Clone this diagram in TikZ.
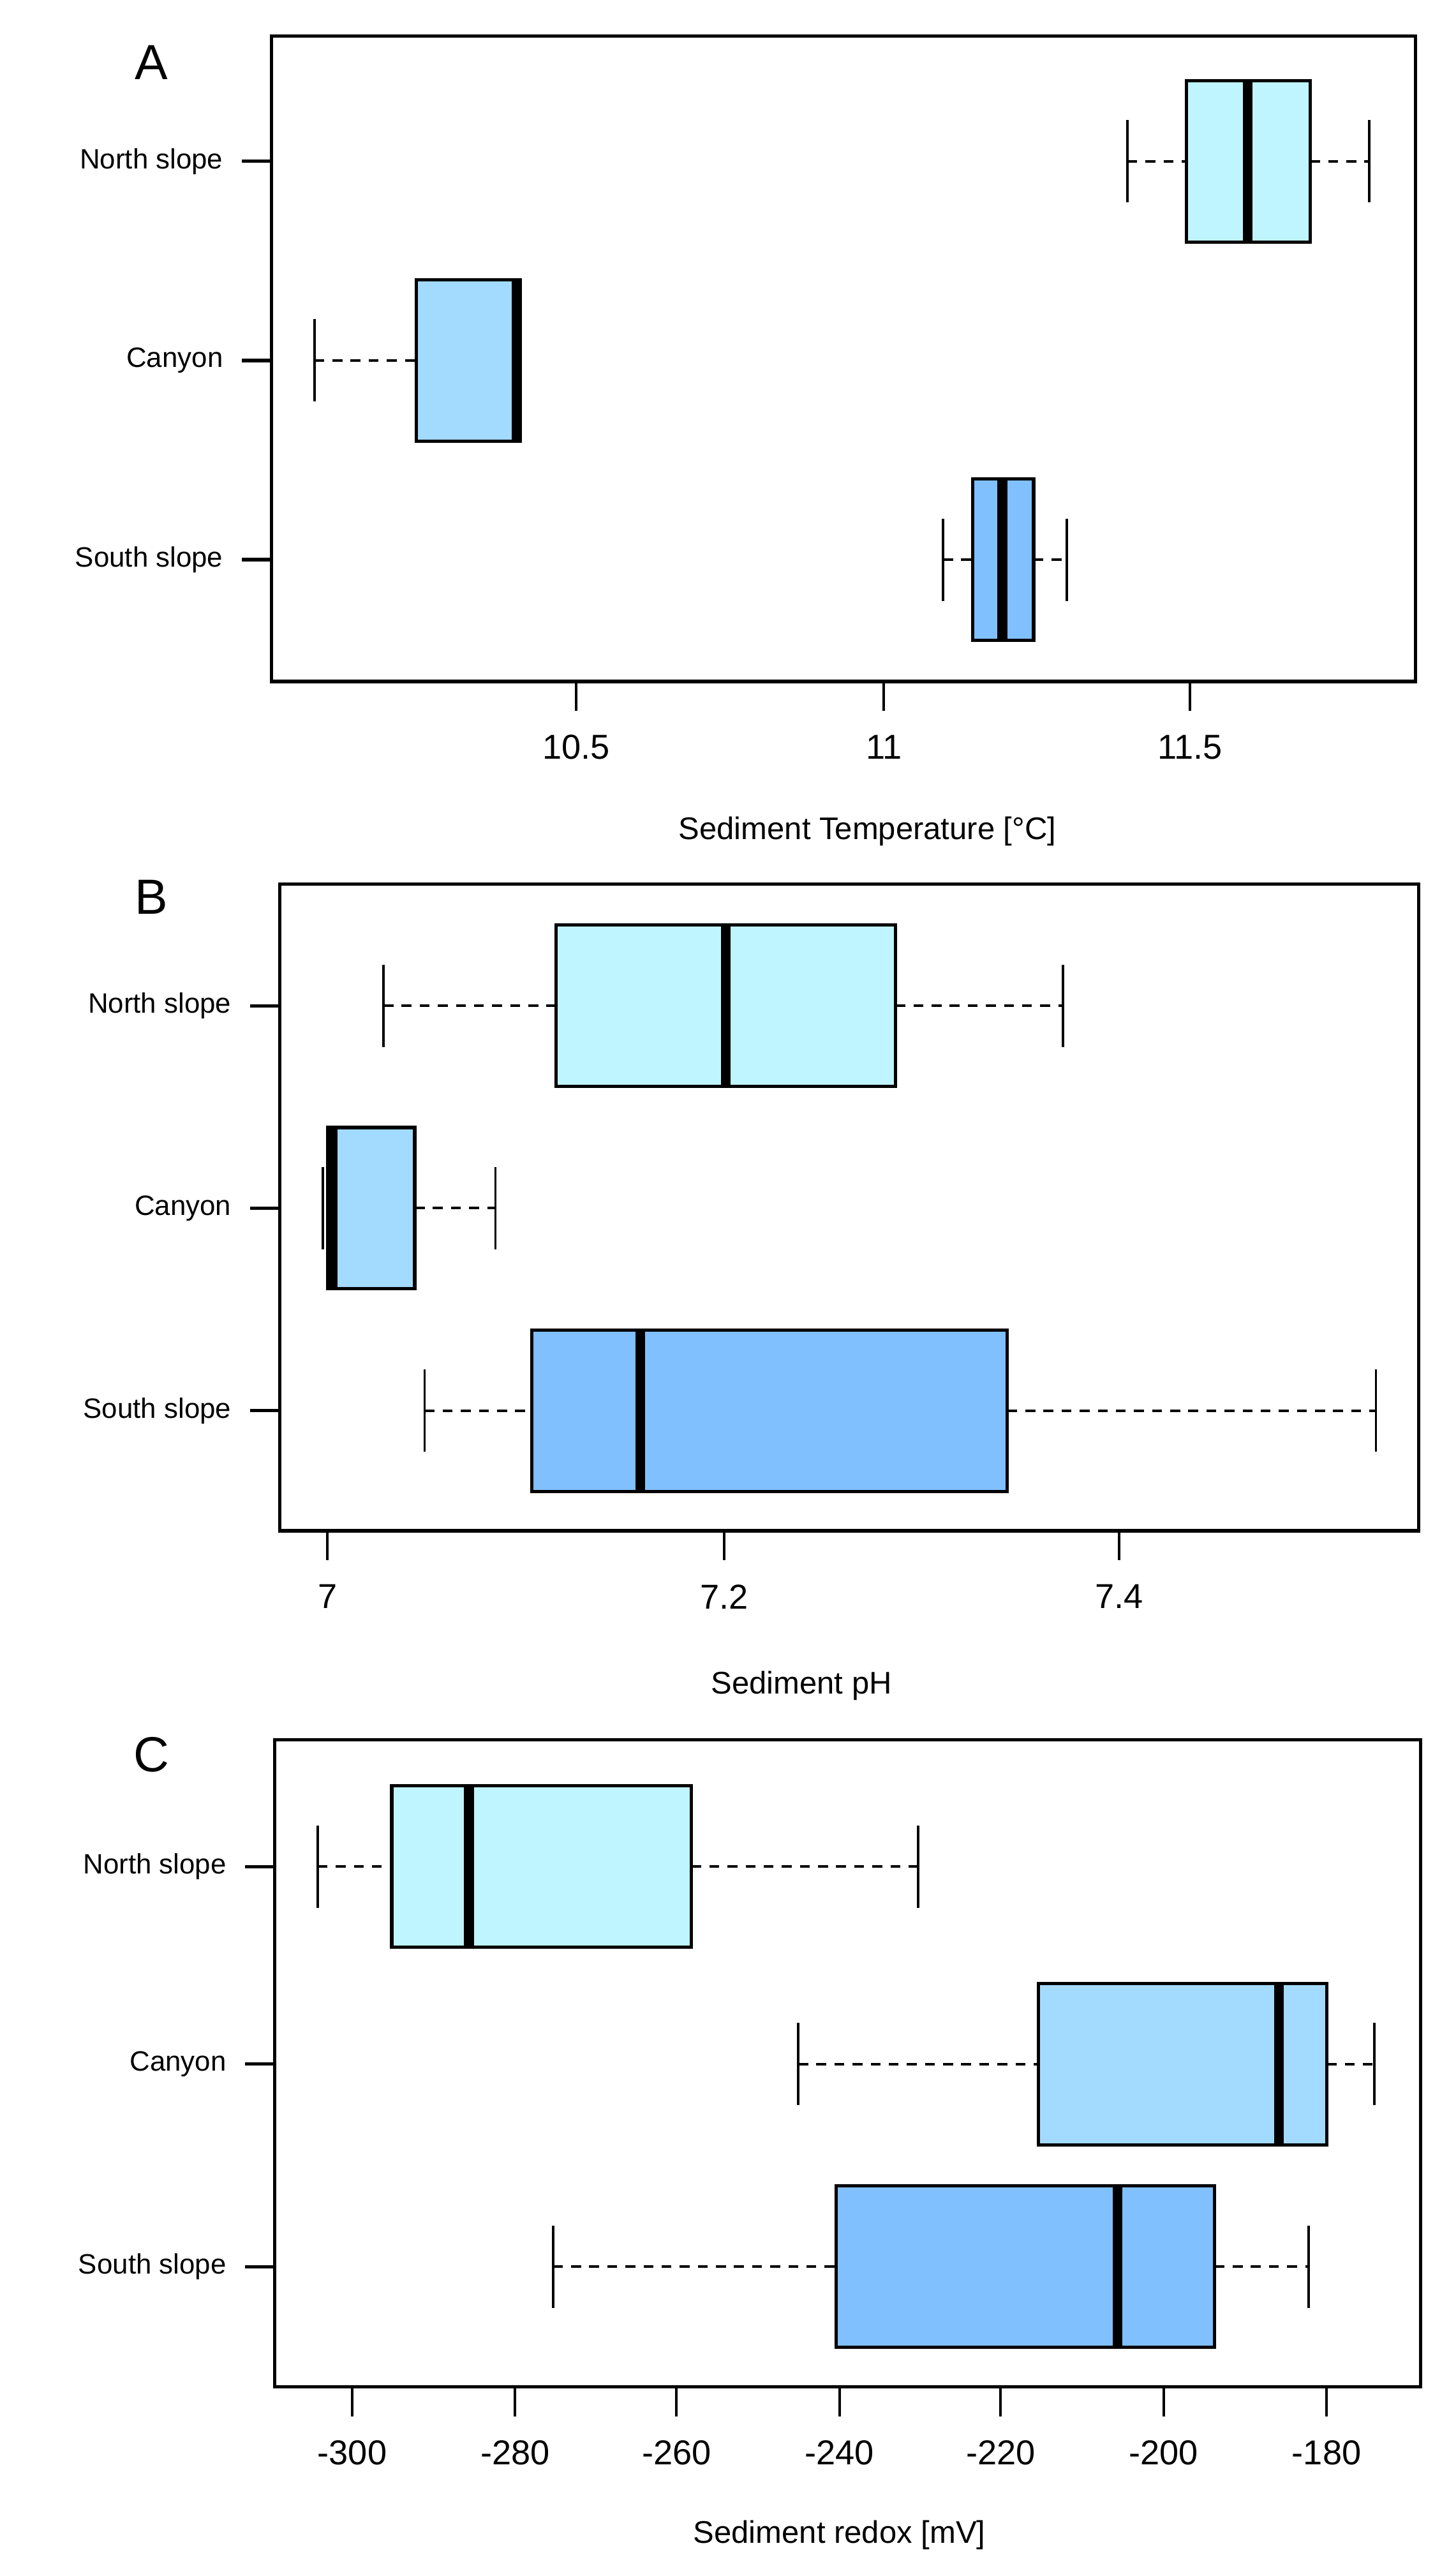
\documentclass[tikz,border=0pt]{standalone}
\usepackage{fontspec}
\setmainfont{Liberation Sans}
\begin{document}
\begin{tikzpicture}[x=1pt,y=-1pt,
  frame/.style={line width=2pt},
  whisk/.style={line width=1.5pt,dash pattern=on 6pt off 5pt},
  wcap/.style={line width=1.5pt},
  boxs/.style={line width=2pt},
  med/.style={line width=6pt},
  ylab/.style={anchor=east,font=\fontsize{17}{20}\selectfont},
  xtl/.style={anchor=center,font=\fontsize{21}{24}\selectfont},
  xlab/.style={anchor=center,font=\fontsize{19}{22}\selectfont},
  plab/.style={anchor=center,font=\fontsize{30}{34}\selectfont}]
\definecolor{cn}{HTML}{BFF5FF}
\definecolor{cc}{HTML}{A3DAFF}
\definecolor{cs}{HTML}{80C0FF}
\useasboundingbox (0,0) rectangle (880,1565);
\fill[white] (0,0) rectangle (880,1565);
% #1 y, #2 wl, #3 q1, #4 med, #5 q3, #6 wr, #7 color
\newcommand{\bxp}[7]{%
  \draw[whisk] (#2,#1) -- (#3,#1);
  \draw[whisk] (#5,#1) -- (#6,#1);
  \draw[wcap] (#2,#1-25) -- (#2,#1+25);
  \draw[wcap] (#6,#1-25) -- (#6,#1+25);
  \filldraw[boxs,fill=#7] (#3,#1-49) rectangle (#5,#1+49);
  \draw[med] (#4,#1-49) -- (#4,#1+49);}
\newcommand{\ytk}[3]{\draw[line width=2pt] (#1-18,#2) -- (#1,#2); \node[ylab] at (#1-26,#2) {#3};}
\newcommand{\xtk}[3]{\draw[line width=1.5pt] (#1,#2) -- (#1,#2+18); \node[xtl] at (#1,#2+40) {#3};}
% ---------- Panel A
\node[plab] (pa) at (92,38) {A};
\draw[frame] (165,22) rectangle (860,414);
\ytk{165}{98}{North slope}
\ytk{165}{219}{Canyon}
\ytk{165}{340}{South slope}
\xtk{350}{414}{10.5}
\xtk{537}{414}{11}
\xtk{723}{414}{11.5}
\node[xlab] (xa) at (527,505) {Sediment Temperature [°C]};
\bxp{98}{685}{721}{758}{796}{832}{cn}
\draw[whisk] (191,219) -- (253,219);
\draw[wcap] (191,194) -- (191,244);
\filldraw[boxs,fill=cc] (253,170) rectangle (316,268);
\draw[med] (314,170) -- (314,268);
\bxp{340}{573}{591}{609}{628}{648}{cs}
% ---------- Panel B
\node[plab] (pb) at (92,545) {B};
\draw[frame] (170,537) rectangle (862,930);
\ytk{170}{611}{North slope}
\ytk{170}{734}{Canyon}
\ytk{170}{857}{South slope}
\xtk{199}{930}{7}
\xtk{440}{930}{7.2}
\xtk{680}{930}{7.4}
\node[xlab] (xb) at (487,1024) {Sediment pH};
\bxp{611}{233}{338}{441}{544}{646}{cn}
\draw[whisk] (252,734) -- (301,734);
\draw[wcap] (301,709) -- (301,759);
\draw[wcap] (196,709) -- (196,759);
\filldraw[boxs,fill=cc] (199,685) rectangle (252,783);
\draw[med] (202,685) -- (202,783);
\bxp{857}{258}{323}{389}{612}{836}{cs}
% ---------- Panel C
\node[plab] (pc) at (92,1066) {C};
\draw[frame] (167,1057) rectangle (863,1450);
\ytk{167}{1134}{North slope}
\ytk{167}{1254}{Canyon}
\ytk{167}{1377}{South slope}
\xtk{214}{1450}{-300}
\xtk{313}{1450}{-280}
\xtk{411}{1450}{-260}
\xtk{510}{1450}{-240}
\xtk{608}{1450}{-220}
\xtk{707}{1450}{-200}
\xtk{806}{1450}{-180}
\node[xlab] (xc) at (510,1540) {Sediment redox [mV]};
\bxp{1134}{193}{238}{285}{420}{558}{cn}
\bxp{1254}{485}{631}{777}{806}{835}{cc}
\bxp{1377}{336}{508}{679}{738}{795}{cs}
\end{tikzpicture}
\end{document}
